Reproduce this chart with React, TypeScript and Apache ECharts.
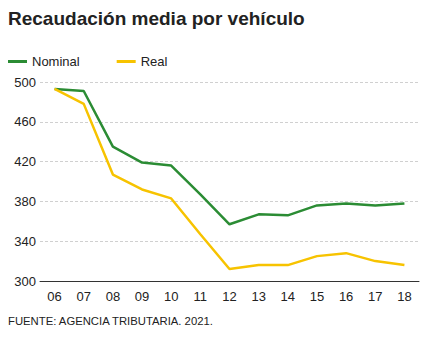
import React, { useEffect, useRef } from "react";
import * as echarts from "echarts";

const categories = ["06", "07", "08", "09", "10", "11", "12", "13", "14", "15", "16", "17", "18"];
const nominal = [493, 491, 435, 419, 416, 387, 357, 367, 366, 376, 378, 376, 378];
const real = [493, 478, 407, 392, 383, 347, 312, 316, 316, 325, 328, 320, 316];
const yTicks = { min: 300, max: 500, interval: 40 };
const titleText = "Recaudación media por vehículo";
const sourceText = "FUENTE: AGENCIA TRIBUTARIA. 2021.";

const FONT = "'Liberation Sans', Arial, sans-serif";
const GREEN = "#2b8c34";
const YELLOW = "#f7c300";

export default function App() {
  const ref = useRef<HTMLDivElement>(null);
  useEffect(() => {
    if (!ref.current) return;
    const chart = echarts.init(ref.current, null, { renderer: "svg" });
    chart.setOption({
      animation: false,
      textStyle: { fontFamily: FONT },
      title: {
        text: titleText,
        left: 8,
        top: 9,
        padding: 0,
        textStyle: { fontFamily: FONT, fontSize: 19, fontWeight: "bold", color: "#222" },
      },
      legend: {
        left: 8,
        top: 55,
        padding: 0,
        icon: "rect",
        itemWidth: 19,
        itemHeight: 3,
        itemGap: 37,
        textStyle: { fontFamily: FONT, fontSize: 13, color: "#222" },
        data: [
          { name: "Nominal", itemStyle: { color: GREEN } },
          { name: "Real", itemStyle: { color: YELLOW } },
        ],
      },
      grid: { left: 40, right: 11, top: 82, bottom: 71, containLabel: false },
      xAxis: {
        type: "category",
        data: categories,
        boundaryGap: true,
        axisLine: { lineStyle: { color: "#333", width: 1 } },
        axisTick: { alignWithLabel: true, length: 5, lineStyle: { color: "#333" } },
        axisLabel: { color: "#222", fontSize: 13, fontFamily: FONT, margin: 9 },
      },
      yAxis: {
        type: "value",
        min: yTicks.min,
        max: yTicks.max,
        interval: yTicks.interval,
        axisLine: { show: false },
        axisTick: { show: false },
        axisLabel: { color: "#222", fontSize: 13, fontFamily: FONT, margin: 4 },
        splitLine: { lineStyle: { color: "#d0d0d0", type: [3, 2], width: 1 } },
      },
      series: [
        {
          name: "Nominal",
          type: "line",
          data: nominal,
          symbol: "none",
          lineStyle: { color: GREEN, width: 2.5 },
          itemStyle: { color: GREEN },
        },
        {
          name: "Real",
          type: "line",
          data: real,
          symbol: "none",
          lineStyle: { color: YELLOW, width: 2.5 },
          itemStyle: { color: YELLOW },
        },
      ],
      graphic: [
        {
          type: "text",
          left: 8,
          top: 315,
          style: { text: sourceText, fontFamily: FONT, fontSize: 11.3, fill: "#222" },
        },
      ],
    });
    return () => chart.dispose();
  }, []);
  return <div ref={ref} style={{ width: 430, height: 352, margin: -8 }} />;
}
